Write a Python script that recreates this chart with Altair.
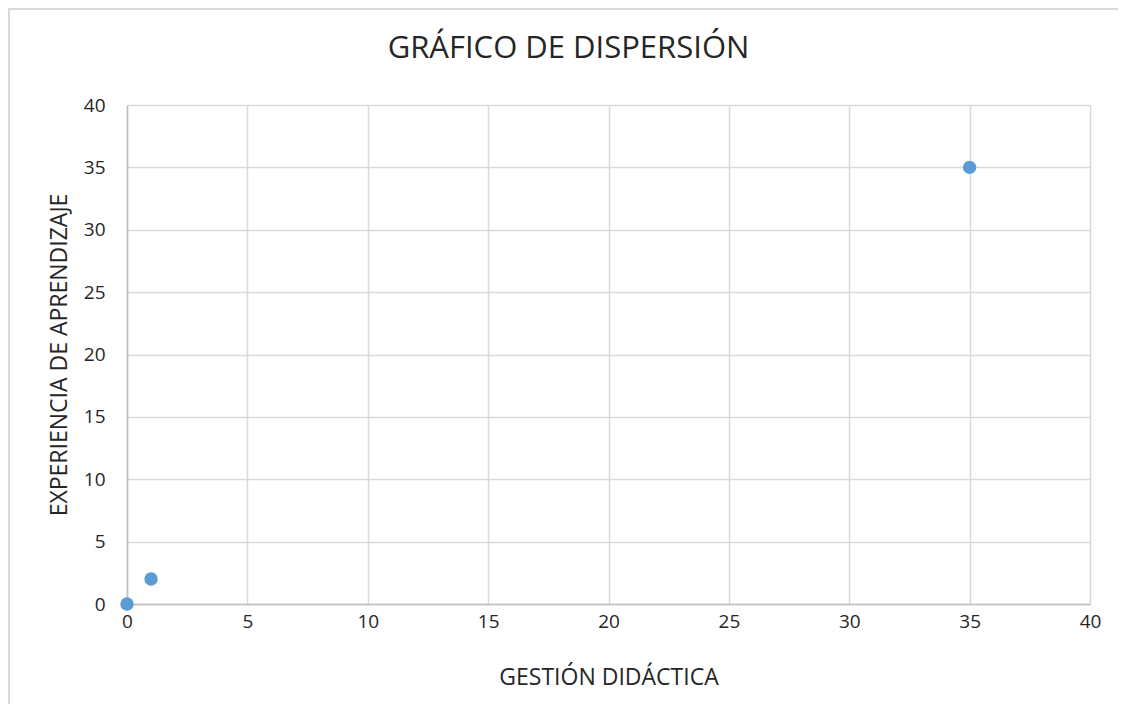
import altair as alt
import pandas as pd

gestion = [0, 1, 35]
experiencia = [0, 2, 35]

df = pd.DataFrame({"x": gestion, "y": experiencia})

font = "Open Sans"

top_border = alt.Chart(pd.DataFrame({"a": [0]})).mark_rule(
    color="#d9d9d9", strokeWidth=2
).encode(x=alt.value(-119), x2=alt.value(1010), y=alt.value(-96))

left_border = alt.Chart(pd.DataFrame({"a": [0]})).mark_rule(
    color="#d9d9d9", strokeWidth=2
).encode(x=alt.value(-118), y=alt.value(-96), y2=alt.value(620))

points = alt.Chart(df).mark_circle(size=180, color="#5b9bd5", opacity=1).encode(
    x=alt.X("x:Q", title="GESTIÓN DIDÁCTICA",
            scale=alt.Scale(domain=[0, 40], nice=False),
            axis=alt.Axis(values=list(range(0, 41, 5)), tickSize=0, labelPadding=8,
                          labelFlush=False,
                          titlePadding=35, domainColor="#bfbfbf", domainWidth=1.5)),
    y=alt.Y("y:Q", title="EXPERIENCIA DE APRENDIZAJE",
            scale=alt.Scale(domain=[0, 40], nice=False),
            axis=alt.Axis(values=list(range(0, 41, 5)), tickSize=0, labelPadding=22,
                          labelFlush=False,
                          titlePadding=12, domainColor="#bfbfbf", domainWidth=1.5)),
)

chart = alt.layer(top_border, left_border, points).properties(
    width=963, height=499,
    autosize=alt.AutoSizeParams(type="none"),
    padding={"left": 119, "top": 97, "right": 28, "bottom": 100},
    title=alt.Title("GRÁFICO DE DISPERSIÓN", fontSize=31, font=font, fontWeight="normal",
                    color="#262626", anchor="middle", offset=34, frame="group",
                    dx=-40, dy=91),
).configure(background="white").configure_view(stroke=None).configure_axis(
    labelFont=font, titleFont=font, labelFontSize=19, titleFontSize=23,
    labelColor="#262626", titleColor="#262626", titleFontWeight="normal",
    gridColor="#d9d9d9", gridWidth=1.5,
)

chart.save("out.html", embed_options={"renderer": "svg", "actions": False})
